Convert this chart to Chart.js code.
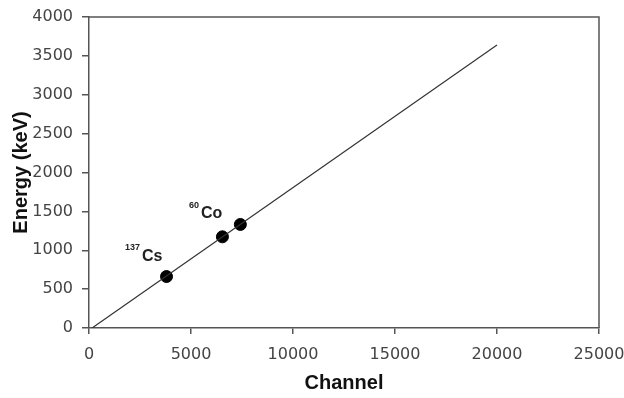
<!DOCTYPE html>
<html>
<head>
<meta charset="utf-8">
<script src="https://cdn.jsdelivr.net/npm/chart.js@4.4.0/dist/chart.umd.min.js"></script>
<style>
  html, body { margin: 0; padding: 0; background: #fff; }
  #wrap { width: 624px; height: 398px; }
</style>
</head>
<body>
<div id="wrap"><canvas id="calib-chart" width="624" height="398"></canvas></div>
<script>
        // calibration line (channel -> energy)
        const lineChannel = [150, 20000];
        const lineEnergy = [0, 3640];

        // measured peaks
        const peakChannel = [3800, 6540, 7420];
        const peakEnergy = [662, 1173, 1332];

        // isotope labels: mass number, symbol, anchor in data coords
        const labelMass = ['137', '60'];
        const labelSymbol = ['Cs', 'Co'];
        const labelChannel = [2600, 5490];
        const labelEnergy = [913, 1466];

        const xTicks = [0, 5000, 10000, 15000, 20000, 25000];
        const yTicks = [0, 500, 1000, 1500, 2000, 2500, 3000, 3500, 4000];

        const axisColor = '#555';
        const tickFont = { family: 'DejaVu Sans', size: 16 };
        const titleFont = { family: 'Liberation Sans', size: 20, weight: 'bold' };

        const isotopeLabels = {
            id: 'isotopeLabels',
            afterDatasetsDraw(chart) {
                const c = chart.ctx;
                const xs = chart.scales.x, ys = chart.scales.y;
                c.save();
                c.fillStyle = '#222';
                c.textBaseline = 'middle';
                c.textAlign = 'left';
                for (let i = 0; i < labelSymbol.length; i++) {
                    const px = xs.getPixelForValue(labelChannel[i]);
                    const py = ys.getPixelForValue(labelEnergy[i]);
                    c.font = 'bold 9px "Liberation Sans"';
                    const w = c.measureText(labelMass[i]).width;
                    c.fillText(labelMass[i], px - w - 2, py - 9);
                    c.font = 'bold 16px "Liberation Sans"';
                    c.fillText(labelSymbol[i], px, py);
                }
                c.restore();
            }
        };

        const frame = {
            id: 'frame',
            afterDraw(chart) {
                const a = chart.chartArea;
                const c = chart.ctx;
                c.save();
                c.strokeStyle = axisColor;
                c.lineWidth = 1.5;
                c.beginPath();
                c.moveTo(a.left, a.top);
                c.lineTo(a.right, a.top);
                c.lineTo(a.right, a.bottom);
                c.stroke();
                c.restore();
            }
        };

        const ctx = document.getElementById('calib-chart').getContext('2d');
        var calibChart = new Chart(ctx, {
            type: 'scatter',
            data: {
                datasets: [
                    {
                        label: 'fit',
                        data: lineChannel.map((x, i) => ({ x: x, y: lineEnergy[i] })),
                        showLine: true,
                        borderColor: '#333',
                        borderWidth: 1.2,
                        pointRadius: 0,
                    },
                    {
                        label: 'peaks',
                        data: peakChannel.map((x, i) => ({ x: x, y: peakEnergy[i] })),
                        backgroundColor: '#000',
                        borderColor: '#000',
                        pointRadius: 6,
                    },
                ],
            },
            options: {
                responsive: false,
                animation: false,
                layout: { padding: { left: 9, right: 25, top: 17, bottom: 0 } },
                plugins: {
                    legend: { display: false },
                    tooltip: { enabled: false },
                },
                scales: {
                    x: {
                        type: 'linear',
                        min: 0,
                        max: 25000,
                        afterBuildTicks: (s) => { s.ticks = xTicks.map(v => ({ value: v })); },
                        afterFit: (s) => { s.paddingLeft = 0; s.paddingRight = 0; s.height = 70; },
                        grid: { drawOnChartArea: false, drawTicks: true, tickLength: 6, color: axisColor, lineWidth: 1.5 },
                        border: { display: true, color: axisColor, width: 1.5 },
                        ticks: { color: '#444', font: tickFont, padding: 11, maxRotation: 0, callback: (v) => String(v) },
                        title: { display: true, text: 'Channel', color: '#111', font: titleFont, padding: { top: 0, bottom: 3 } },
                    },
                    y: {
                        type: 'linear',
                        min: 0,
                        max: 4000,
                        afterBuildTicks: (s) => { s.ticks = yTicks.map(v => ({ value: v })); },
                        afterFit: (s) => { s.width = 80; s.paddingTop = 0; s.paddingBottom = 0; },
                        grid: { drawOnChartArea: false, drawTicks: true, tickLength: 7, color: axisColor, lineWidth: 1.5 },
                        border: { display: true, color: axisColor, width: 1.5 },
                        ticks: { color: '#444', font: tickFont, padding: 9, callback: (v) => String(v) },
                        title: { display: true, text: 'Energy (keV)', color: '#111', font: titleFont, padding: { top: 0, bottom: 4 } },
                    },
                },
            },
            plugins: [isotopeLabels, frame],
        });
</script>
</body>
</html>
